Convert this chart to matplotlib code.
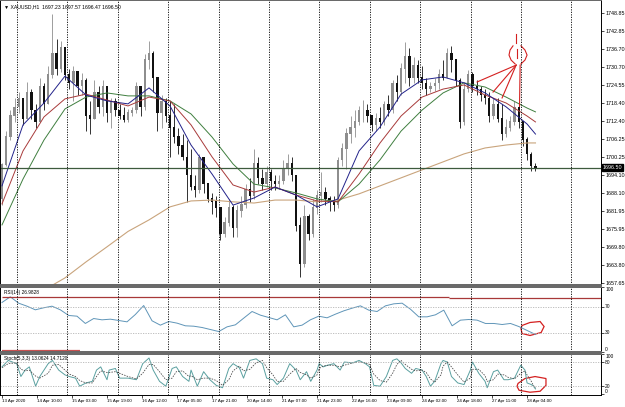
import numpy as np
import matplotlib.pyplot as plt
from matplotlib.patches import Polygon

plt.rcParams['font.family'] = ['Liberation Sans', 'DejaVu Sans']

# XAUUSD H1 in 2-hour steps
first_open = 1686.0
closes = [1697.5, 1707, 1714, 1717, 1720, 1713, 1722, 1716, 1712, 1724,
          1718, 1728, 1735, 1730, 1737, 1728, 1725, 1729, 1724, 1726,
          1714, 1713, 1722, 1717, 1724, 1715, 1719, 1716, 1714, 1712.5,
          1715, 1716, 1724, 1717, 1733, 1735, 1727, 1715, 1719, 1714,
          1710, 1707, 1704, 1700, 1694, 1690, 1689, 1700, 1691, 1686,
          1685, 1683, 1674, 1678, 1683, 1676, 1682, 1684, 1689, 1687,
          1698, 1693, 1691, 1695, 1692, 1691, 1692, 1696, 1698, 1694,
          1677, 1664, 1680, 1674, 1683, 1687, 1688, 1686, 1685, 1684,
          1699, 1703, 1708, 1710, 1712, 1716, 1716, 1714, 1711, 1713,
          1712, 1718, 1716, 1725, 1722, 1730, 1734, 1727, 1731, 1727,
          1725, 1723, 1724, 1725, 1728, 1727, 1735, 1733, 1726, 1712,
          1723, 1728, 1724, 1723, 1721, 1720, 1714, 1718, 1713, 1708,
          1710, 1712, 1717, 1712, 1706, 1701, 1697, 1696.5]
highs = [1698, 1709, 1716, 1720, 1722, 1719, 1725.5, 1723, 1718, 1727,
         1725, 1731, 1748.5, 1740, 1739.5, 1734, 1730, 1731, 1729, 1728.5,
         1727, 1719, 1726, 1724, 1726, 1723, 1720, 1720, 1718, 1717,
         1716.5, 1717, 1725.5, 1724, 1735, 1739.5, 1736, 1727, 1721, 1720,
         1719, 1718, 1710, 1708, 1706, 1703, 1694, 1701, 1700, 1691,
         1688, 1687, 1683, 1680, 1686, 1684, 1684, 1687, 1691, 1693,
         1703, 1700, 1696, 1697, 1696, 1694, 1694, 1699, 1701, 1700,
         1694, 1680, 1684, 1681, 1686, 1689, 1695, 1690, 1687, 1687,
         1700, 1705, 1710, 1714, 1716, 1717.5, 1719.5, 1718, 1714, 1715,
         1717, 1719, 1721, 1726, 1728, 1732, 1739, 1737, 1734, 1733,
         1731, 1727, 1725.5, 1727, 1730, 1733, 1737, 1737.5, 1731, 1727,
         1725, 1729.5, 1729, 1726, 1724, 1723, 1722, 1720, 1720, 1718,
         1713, 1714, 1719, 1718, 1712, 1707, 1702, 1698]
lows = [1684, 1697, 1706, 1712, 1715, 1711, 1713, 1713, 1710, 1712,
        1716, 1718, 1727, 1728, 1729, 1726, 1723, 1719, 1721, 1721,
        1709, 1708, 1713, 1715, 1714, 1712, 1710, 1714, 1713, 1712,
        1712, 1714, 1715, 1714, 1716, 1730, 1722, 1709, 1710, 1712,
        1700, 1705, 1701, 1699, 1685, 1689, 1686.5, 1688, 1688, 1685,
        1681, 1680, 1672, 1673, 1677, 1673, 1673, 1680, 1683, 1685,
        1686, 1691, 1689, 1690, 1689, 1689, 1689.5, 1691, 1694, 1692,
        1675, 1659.5, 1663, 1672, 1673, 1681, 1685, 1684, 1682, 1682,
        1683, 1697, 1696, 1705, 1707, 1711, 1712, 1712, 1709, 1709,
        1710, 1711, 1714, 1715, 1719, 1721, 1725, 1724, 1725, 1725,
        1723, 1721, 1722, 1722.5, 1723, 1726, 1727, 1729, 1724, 1710,
        1711, 1722, 1722, 1721, 1719, 1718, 1712, 1713, 1712, 1706,
        1707, 1709, 1711, 1710, 1704, 1699, 1695.5, 1695.5]

# moving averages read every 10 hours (plus last bar)
ma_hours = list(range(0, 251, 10)) + [254]
ma_fast = [1690.4, 1711.0, 1718.4, 1727.5, 1721.1, 1719.1, 1718.1, 1723.5, 1717.4,
           1704.2, 1694.4, 1683.9, 1686.3, 1690.0, 1687.3, 1683.3, 1686.0, 1702.2,
           1710.3, 1721.4, 1726.2, 1727.2, 1725.2, 1721.8, 1717.1, 1711.3, 1707.9]
ma_mid = [1684.3, 1702.2, 1713.7, 1719.8, 1721.4, 1719.4, 1717.4, 1720.4, 1719.1,
          1711.0, 1700.2, 1690.7, 1688.3, 1690.0, 1687.3, 1685.3, 1685.0, 1694.4,
          1704.9, 1714.0, 1720.4, 1723.1, 1724.5, 1721.1, 1718.4, 1714.0, 1712.0]
ma_slow = [1677.2, 1692.7, 1705.9, 1716.4, 1720.4, 1721.8, 1720.8, 1720.8, 1719.1,
           1714.7, 1706.9, 1697.8, 1691.0, 1689.7, 1688.0, 1686.0, 1685.0, 1691.0,
           1699.2, 1708.9, 1716.0, 1721.8, 1725.2, 1723.8, 1720.4, 1716.7, 1715.4]
ma_long = [1648.0, 1651.9, 1655.2, 1659.3, 1664.7, 1669.8, 1675.0, 1678.9, 1683.3,
           1685.3, 1685.6, 1685.0, 1684.6, 1685.6, 1685.6, 1685.0, 1685.6, 1687.7,
           1690.4, 1693.1, 1695.8, 1698.5, 1701.2, 1703.2, 1704.2, 1704.9, 1704.9]

# RSI(14) every 4 hours
rsi = [76.2, 84.9, 75.1, 70.5, 64.9, 68.0, 70.5, 64.9, 56.2, 55.1,
       43.9, 51.5, 49.5, 50.5, 48.5, 46.4, 57.7, 71.5, 48.0, 41.3,
       46.9, 44.4, 40.3, 39.7, 37.7, 34.6, 31.5, 38.7, 41.8, 52.1,
       62.3, 56.7, 53.1, 49.5, 57.2, 38.7, 41.3, 49.5, 55.1, 52.6,
       58.2, 63.3, 67.4, 71.0, 64.4, 62.3, 71.0, 74.1, 75.1, 65.9,
       54.1, 54.1, 57.2, 64.4, 40.3, 49.0, 50.0, 49.0, 43.9, 43.9,
       42.3, 43.9, 39.2, 33.1, 27.0]

# Stoch(5,3,3)
stoch_hours = [0, 3, 7, 9, 11, 13, 16, 18, 22, 24, 27, 30, 32, 35, 37, 40, 43, 45, 47, 50,
               51, 54, 56, 60, 64, 67, 70, 72, 75, 78, 81, 83, 86, 89, 90, 93, 96, 99, 102, 105,
               108, 110, 113, 115, 118, 121, 124, 126, 129, 131, 134, 137, 140, 142, 145, 147,
               150, 151, 153, 155, 158, 161, 163, 167, 170, 173, 175, 177, 180, 183, 186, 188,
               190, 192, 195, 197, 200, 202, 204, 206, 209, 210, 212, 214, 217, 220, 223, 224,
               227, 230, 231, 234, 236, 239, 241, 244, 247, 249, 250, 252, 253, 254]
stoch_main = [68, 84, 76, 44, 60, 68, 20, 44, 76, 84, 60, 48, 44, 40, 20, 28, 32, 60, 68, 36,
              60, 64, 40, 40, 36, 76, 90, 60, 32, 20, 64, 68, 44, 32, 60, 20, 56, 36, 22, 16,
              64, 76, 66, 40, 84, 88, 76, 40, 36, 24, 40, 76, 60, 36, 56, 32, 60, 76, 68, 72,
              76, 60, 80, 78, 84, 76, 68, 22, 20, 44, 84, 88, 78, 64, 52, 64, 60, 44, 20, 32,
              76, 84, 80, 44, 28, 24, 60, 80, 52, 32, 16, 56, 60, 36, 36, 40, 72, 60, 28, 24,
              20, 13]
stoch_signal = [66, 76, 78, 62, 58, 60, 45, 40, 52, 72, 74, 60, 50, 44, 34, 28, 28, 44, 58, 54,
                54, 56, 52, 44, 38, 52, 74, 74, 56, 36, 40, 56, 58, 44, 46, 36, 40, 40, 34, 22,
                36, 58, 70, 58, 62, 78, 84, 66, 48, 32, 32, 50, 64, 54, 48, 40, 48, 64, 70, 72,
                72, 68, 72, 78, 80, 78, 74, 50, 34, 30, 52, 74, 84, 74, 62, 58, 60, 54, 38, 30,
                48, 70, 80, 68, 48, 30, 40, 62, 62, 46, 32, 36, 50, 48, 42, 38, 52, 58, 48, 32,
                22, 15]

price_ticks = [1748.85, 1742.85, 1736.70, 1730.70, 1724.55, 1718.40, 1712.40, 1706.25,
               1700.25, 1694.10, 1688.10, 1681.95, 1675.95, 1669.80, 1663.80, 1657.65]
date_labels = ['13 Apr 2020', '14 Apr 10:00', '15 Apr 03:00', '15 Apr 19:00', '16 Apr 12:00',
               '17 Apr 05:00', '17 Apr 21:00', '20 Apr 14:00', '21 Apr 07:00', '21 Apr 23:00',
               '22 Apr 16:00', '23 Apr 09:00', '24 Apr 02:00', '24 Apr 18:00', '27 Apr 11:00',
               '28 Apr 04:00']
last_price = 1696.50

W, H = 625, 407
fig = plt.figure(figsize=(W / 100, H / 100), dpi=100)


def panel(top, bottom, right=601):
    return [0.0, (H - bottom) / H, right / W, (bottom - top) / H]


ax = fig.add_axes(panel(0, 285))
ax_rsi = fig.add_axes(panel(287, 352), sharex=ax)
ax_st = fig.add_axes(panel(354, 395), sharex=ax)

# candles
c = np.array(closes)
o = np.r_[first_open, c[:-1]]
hi = np.maximum(np.array(highs), np.maximum(o, c))
lo = np.minimum(np.array(lows), np.minimum(o, c))
t = np.arange(len(c)) * 2
cols = np.where(c >= o, '#8e8e8e', '#111111')
ax.vlines(t, lo, hi, colors=cols, lw=0.6)
ax.bar(t, np.abs(c - o) + 0.2, bottom=np.minimum(o, c), width=1.1, color=cols, lw=0)

ax.plot(ma_hours, ma_long, color='#c9a47c', lw=0.8)
ax.plot(ma_hours, ma_slow, color='#3f7f3f', lw=0.7)
ax.plot(ma_hours, ma_mid, color='#a83a3a', lw=0.7)
ax.plot(ma_hours, ma_fast, color='#22228a', lw=0.7)
ax.axhline(last_price, color='#3d5a3d', lw=0.9)

ax.set_ylim(1656.9, 1753.2)
ax.set_xlim(-0.95, 285.2)
ax.set_yticks(price_ticks)
ax.set_yticklabels(['%.2f' % v for v in price_ticks])
ax.text(1.003, last_price, '%.2f' % last_price, transform=ax.get_yaxis_transform(),
        fontsize=3.9, color='white', va='center', ha='left',
        bbox=dict(boxstyle='square,pad=0.15', fc='black', ec='black'))
ax.text(0.006, 0.985, '\u25bc XAUUSD,H1  1697.23 1697.57 1696.47 1696.50',
        transform=ax.transAxes, fontsize=3.7, va='top')

# hand drawn red marks
red = '#d42020'
ax.plot([244.8, 244.8], [1741.7, 1738.6], color=red, lw=0.8)
ax.plot([243.3, 241.9, 241.4, 242.4, 244.3], [1737.7, 1736.3, 1734.6, 1732.9, 1731.6], color=red, lw=0.8)
ax.plot([247.1, 249.0, 250.0, 249.0, 247.1], [1737.7, 1736.3, 1734.6, 1732.9, 1731.6], color=red, lw=0.8)
ax.plot([245.4, 245.4], [1736.6, 1733.6], color=red, lw=0.8)
for x1, y1 in [(226.2, 1725.5), (233.8, 1722.1), (238.1, 1720.1)]:
    ax.plot([244.8, x1], [1731.2, y1], color=red, lw=0.8)
ax.plot([246.7, 246.4], [1731.2, 1717.3], color=red, lw=0.8)

# RSI
ax_rsi.plot(np.linspace(0, 254, len(rsi)), rsi, color='#5f95b8', lw=0.7)
ax_rsi.hlines(84.9, 0, 213, color='#a83838', lw=0.9)
ax_rsi.hlines(82.8, 213, 285.2, color='#a83838', lw=0.9)
ax_rsi.hlines(1.2, 0, 37, color='#c85050', lw=1.6)
for lvl in (70, 30):
    ax_rsi.axhline(lvl, color='#b5b5b5', lw=0.6, ls=(0, (1.5, 1.5)))
ax_rsi.set_ylim(0, 100)
ax_rsi.set_yticks([0, 30, 70, 100])
ax_rsi.text(0.006, 0.95, 'RSI(14) 26.9828', transform=ax_rsi.transAxes, fontsize=3.4, va='top')
ax_rsi.add_patch(Polygon([(247.6, 40.8), (251.4, 45.4), (256.2, 46.9), (258.1, 39.2),
                          (256.7, 30), (251.4, 25.4), (247.6, 28.5), (247.1, 36.2)],
                         closed=True, fill=False, ec=red, lw=0.9))

# Stochastic
ax_st.plot(stoch_hours, stoch_main, color='#5aa0a0', lw=0.7)
ax_st.plot(stoch_hours, stoch_signal, color='#444444', lw=0.55, ls=(0, (2, 1.5)))
for lvl in (80, 20):
    ax_st.axhline(lvl, color='#b5b5b5', lw=0.6, ls=(0, (1.5, 1.5)))
ax_st.set_ylim(-2, 100)
ax_st.set_yticks([0, 20, 80, 100])
ax_st.text(0.006, 0.95, 'Stoch(5,3,3) 13.0624 14.7120', transform=ax_st.transAxes,
           fontsize=3.4, va='top')
ax_st.add_patch(Polygon([(245.7, 26.8), (249.0, 39.0), (253.8, 43.9), (259.0, 39.0),
                         (259.0, 22.0), (256.2, 7.3), (251.4, 4.9), (246.2, 9.8), (245.2, 19.5)],
                        closed=True, fill=False, ec=red, lw=0.9))

# day separators
for a in (ax, ax_rsi, ax_st):
    for g in np.arange(7.14, 285, 24):
        a.axvline(g, color='black', lw=0.6, ls=(0, (1.5, 1.5)))
    a.yaxis.tick_right()
    a.tick_params(axis='y', length=2, width=0.5, labelsize=3.9, pad=1)
    for s in a.spines.values():
        s.set_linewidth(0.7)
    a.spines['top'].set_color('#666666')
    a.spines['bottom'].set_color('#666666')

# keep the 0/100 labels inside their panels
for a in (ax_rsi, ax_st):
    a.tick_params(axis='y', labelsize=3.5)
    labs = a.get_yticklabels()
    labs[0].set_va('bottom')
    labs[-1].set_va('top')

ax.spines['bottom'].set_linewidth(1.4)
ax_rsi.spines['top'].set_linewidth(1.4)
ax_rsi.spines['bottom'].set_linewidth(1.4)
ax_st.spines['top'].set_linewidth(1.4)
ax_st.spines['bottom'].set_color('black')

ax.tick_params(axis='x', bottom=False, labelbottom=False)
ax_rsi.tick_params(axis='x', bottom=False, labelbottom=False)
ax_st.set_xticks(np.linspace(0, 250, len(date_labels)))
ax_st.set_xticklabels(date_labels)
ax_st.tick_params(axis='x', length=2, width=0.5, labelsize=3.2, pad=1)
for lab in ax_st.get_xticklabels():
    lab.set_ha('left')

fig.savefig('out.png', dpi=100)
